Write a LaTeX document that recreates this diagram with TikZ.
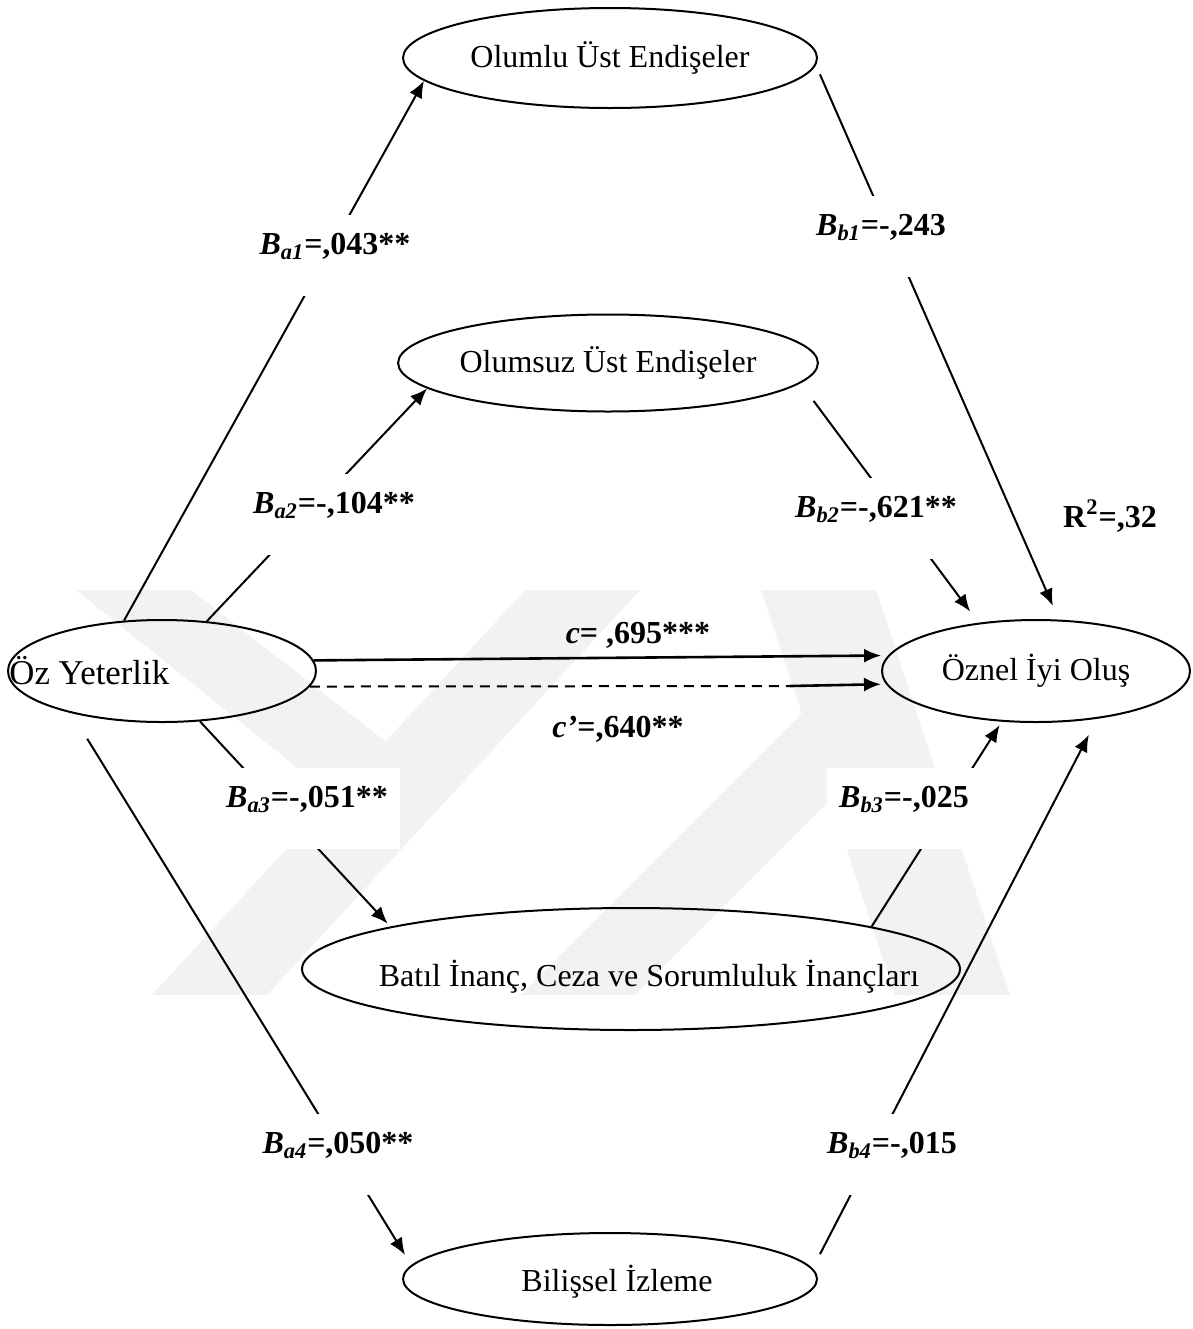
\documentclass[tikz,border=0pt]{standalone}
\usepackage{fontspec}
\setmainfont{Liberation Serif}
\usetikzlibrary{arrows.meta,shapes.geometric}

\tikzset{
  oval/.style={draw, ellipse, line width=1pt, inner sep=0pt, font=\fontsize{16}{19}\selectfont},
  txt/.style={inner sep=0pt, font=\fontsize{16}{19}\selectfont},
  coef/.style={fill=white, inner xsep=6pt, inner ysep=9pt, text depth=12pt, anchor=base, font=\fontsize{16}{19}\selectfont\bfseries},
  link/.style={line width=1pt, -{Latex[length=8.5pt,width=7pt]}},
  wmark/.style={fill=gray!10, draw=none}
}

\begin{document}
\begin{tikzpicture}[x=0.5pt,y=-0.5pt]
  \useasboundingbox (0,0) rectangle (1193,1329);

  % watermark
  \fill[wmark] (152,995) -- (267,995) -- (640,590) -- (525,590) -- cycle;
  \fill[wmark] (76,590) -- (191,590) -- (426,773) -- (304,773) -- cycle;
  \fill[wmark] (761,590) -- (876,590) -- (1010,995) -- (895,995) -- cycle;
  \fill[wmark] (520,995) -- (635,995) -- (830,800) -- (802,713) -- cycle;

  % variables
  \node[oval, minimum width=207pt, minimum height=50pt] (olumlu) at (610,58) {Olumlu Üst Endişeler};
  \node[oval, minimum width=205pt, minimum height=48.5pt] (olumsuz) at (608,363) {Olumsuz Üst Endişeler};
  \node[oval, minimum width=154pt, minimum height=51pt] (oz) at (162,671) {};
  \node[txt, anchor=west, font=\fontsize{17.4}{20}\selectfont] (oztext) at ([xshift=1pt]oz.west) {Öz Yeterlik};
  \node[oval, minimum width=154pt, minimum height=51pt] (oznel) at (1036,671) {Öznel İyi Oluş};
  \node[oval, minimum width=329pt, minimum height=61pt] (batil) at (631,969) {};
  \node[txt] (batiltext) at (649,977) {Batıl İnanç, Ceza ve Sorumluluk İnançları};
  \node[oval, minimum width=207pt, minimum height=46pt] (bilis) at (610,1279) {};
  \node[txt] (bilistext) at (617,1282) {Bilişsel İzleme};
  \coordinate (cbrk) at (790,686);

  % paths
  \draw[link] (oz.127) -- (olumlu.187);
  \draw[link] (oz.48) -- (olumsuz.188);
  \draw[link, shorten <=5pt, shorten >=7.5pt] (olumlu.-2) -- (oznel.66);
  \draw[link, shorten <=11pt, shorten >=7pt] (olumsuz.-6) -- (oznel.140);
  \draw[link, line width=1.3pt, shorten >=3.5pt] (oz.4) -- (oznel.174);
  \draw[line width=1pt, dash pattern=on 5pt off 3.5pt] (oz.-6) -- (cbrk);
  \draw[link, line width=1.3pt, shorten >=2.5pt] (cbrk) -- (oznel.185);
  \draw[link, shorten >=2pt] (oz.-53) -- (batil.170);
  \draw[link, shorten >=2pt] (batil.10) -- (oznel.236);
  \draw[link, shorten <=15pt, shorten >=6pt] (oz.205) -- (bilis.176);
  \draw[link, shorten <=8pt, shorten >=9pt] (bilis.3) -- (oznel.-38);

  % coefficients
  \node[coef] (ba1) at (335,254) {\textit{B}\textsubscript{\textit{a1}}=,043**};
  \node[coef] (bb1) at (881,235) {\textit{B}\textsubscript{\textit{b1}}=-,243};
  \node[coef] (ba2) at (334,513) {\textit{B}\textsubscript{\textit{a2}}=-,104**};
  \node[coef] (bb2) at (876,517) {\textit{B}\textsubscript{\textit{b2}}=-,621**};
  \node[coef] (ba3) at (307,807) {\textit{B}\textsubscript{\textit{a3}}=-,051**};
  \node[coef] (bb3) at (904,807) {\textit{B}\textsubscript{\textit{b3}}=-,025};
  \node[coef] (ba4) at (338,1153) {\textit{B}\textsubscript{\textit{a4}}=,050**};
  \node[coef] (bb4) at (892,1153) {\textit{B}\textsubscript{\textit{b4}}=-,015};
  \node[txt, anchor=base, font=\fontsize{16}{19}\selectfont\bfseries] (ctot) at (638,643) {\textit{c}= ,695***};
  \node[txt, anchor=base, font=\fontsize{16}{19}\selectfont\bfseries] (cdir) at (618,737) {\textit{c’}=,640**};
  \node[txt, anchor=base, font=\fontsize{16}{19}\selectfont\bfseries] (rsq) at (1110,527) {R\textsuperscript{2}=,32};
\end{tikzpicture}
\end{document}
